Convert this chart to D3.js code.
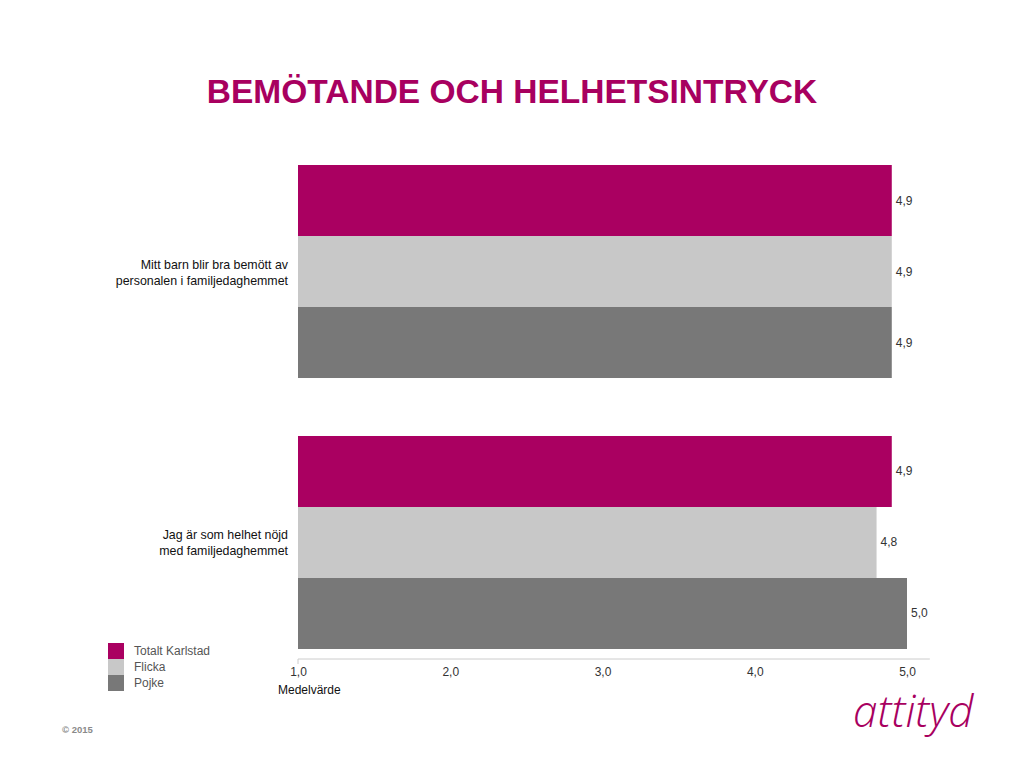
<!DOCTYPE html>
<html>
    <head>
        <meta lang="sv" charset="utf-8">
        <style>
            body { margin: 0; background: #fff; }
            text { font-family: "Liberation Sans", Arial, sans-serif; }
        </style>
    </head>
    <body>
        <div id="d3render"></div>
    </body>
    <script src="https://d3js.org/d3.v7.min.js"></script>
    <script>

        const categories = [
            ['Mitt barn blir bra bemött av', 'personalen i familjedaghemmet'],
            ['Jag är som helhet nöjd', 'med familjedaghemmet']
        ];
        const seriesNames = ['Totalt Karlstad', 'Flicka', 'Pojke'];
        const seriesColors = ['#AA0061', '#C8C8C8', '#787878'];
        // values per category, in series order
        const totaltKarlstad = [4.9, 4.9];
        const flicka = [4.9, 4.8];
        const pojke = [4.9, 5.0];
        const tickValues = [1, 2, 3, 4, 5];

        const svgWidth = 1024;
        const svgHeight = 767;
        const seriesValues = [totaltKarlstad, flicka, pojke];
        const fmt = v => d3.format('.1f')(v).replace('.', ',');

        const svg = d3.select('#d3render')
            .append('svg')
            .attr('width', svgWidth)
            .attr('height', svgHeight)
            .style('background-color', 'white');

        svg.append('text')
            .attr('x', 512)
            .attr('y', 103)
            .attr('text-anchor', 'middle')
            .style('font-size', '33.5px')
            .style('font-weight', 'bold')
            .style('fill', '#A8005F')
            .text('BEMÖTANDE OCH HELHETSINTRYCK');

        const xScale = d3.scaleLinear()
            .domain([1, 5])
            .range([298, 907]);

        const yGroup = d3.scaleBand()
            .domain(d3.range(categories.length))
            .range([165, 649])
            .paddingInner(0.214)
            .paddingOuter(0);

        const ySeries = d3.scaleBand()
            .domain(d3.range(seriesNames.length))
            .range([0, yGroup.bandwidth()]);

        const groups = svg.selectAll('g.group')
            .data(categories)
            .enter()
            .append('g')
            .attr('class', 'group')
            .attr('transform', (d, i) => `translate(0, ${yGroup(i)})`);

        groups.each(function (cat, ci) {
            const g = d3.select(this);
            const rows = seriesValues.map((vals, si) => ({ si: si, v: vals[ci] }));

            g.selectAll('rect')
                .data(rows)
                .enter()
                .append('rect')
                .attr('x', xScale(1))
                .attr('y', d => ySeries(d.si))
                .attr('width', d => xScale(d.v) - xScale(1))
                .attr('height', ySeries.bandwidth())
                .attr('fill', d => seriesColors[d.si]);

            g.selectAll('text.val')
                .data(rows)
                .enter()
                .append('text')
                .attr('class', 'val')
                .attr('x', d => xScale(d.v) + 4)
                .attr('y', d => ySeries(d.si) + ySeries.bandwidth() / 2 + 4)
                .style('font-size', '12px')
                .style('fill', '#333')
                .text(d => fmt(d.v));

            const label = g.append('text')
                .attr('text-anchor', 'end')
                .attr('x', 288)
                .attr('y', yGroup.bandwidth() / 2 - 3)
                .style('font-size', '12.4px')
                .style('fill', '#111');
            label.selectAll('tspan')
                .data(cat)
                .enter()
                .append('tspan')
                .attr('x', 288)
                .attr('dy', (d, i) => i === 0 ? 0 : 16)
                .text(d => d);
        });

        // x axis
        const xAxis = d3.axisBottom(xScale)
            .tickValues(tickValues)
            .tickSize(0)
            .tickPadding(8)
            .tickFormat(fmt);

        const axisG = svg.append('g')
            .attr('transform', 'translate(0, 659)')
            .call(xAxis);
        axisG.select('.domain').remove();
        axisG.selectAll('text')
            .style('font-family', '"Liberation Sans", Arial, sans-serif')
            .style('font-size', '12px')
            .style('fill', '#333');
        axisG.append('line')
            .attr('x1', xScale(1))
            .attr('x2', xScale(5.15))
            .attr('stroke', '#CCCCCC');
        axisG.append('line')
            .attr('x1', xScale(1))
            .attr('x2', xScale(1))
            .attr('y2', 5)
            .attr('stroke', '#CCCCCC');

        svg.append('text')
            .attr('x', 278)
            .attr('y', 694)
            .style('font-size', '12px')
            .style('fill', '#111')
            .text('Medelvärde');

        // legend
        const legend = svg.append('g')
            .attr('transform', 'translate(108, 643)');
        legend.selectAll('rect')
            .data(seriesNames)
            .enter()
            .append('rect')
            .attr('x', 0)
            .attr('y', (d, i) => i * 16)
            .attr('width', 16)
            .attr('height', 16)
            .attr('fill', (d, i) => seriesColors[i]);
        legend.selectAll('text')
            .data(seriesNames)
            .enter()
            .append('text')
            .attr('x', 26)
            .attr('y', (d, i) => i * 16 + 12)
            .style('font-size', '12px')
            .style('fill', '#555')
            .text(d => d);

        svg.append('text')
            .attr('x', 62)
            .attr('y', 733)
            .style('font-size', '9.5px')
            .style('font-weight', 'bold')
            .style('fill', '#8a8a8a')
            .text('© 2015');

        svg.append('text')
            .attr('x', 853)
            .attr('y', 727)
            .style('font-family', '"Open Sans", "DejaVu Sans", sans-serif')
            .style('font-size', '44px')
            .style('font-style', 'italic')
            .style('font-weight', 300)
            .style('fill', '#A8005F')
            .text('attityd');

    </script>
</html>
